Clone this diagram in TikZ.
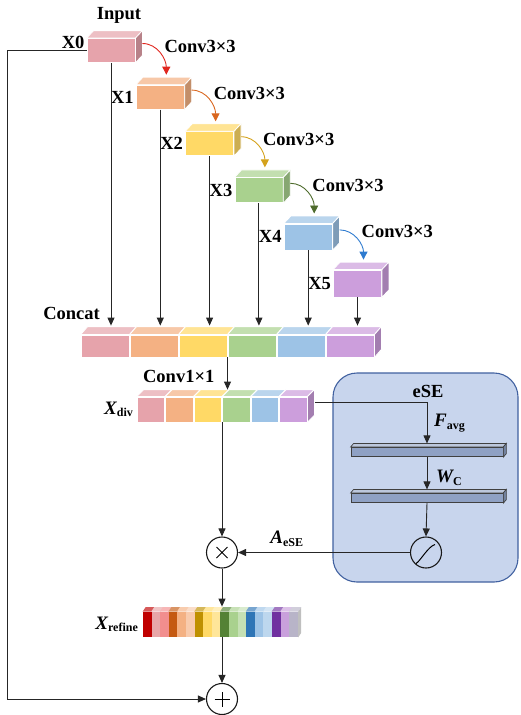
\documentclass[tikz,border=0pt]{standalone}
\usepackage{fontspec}
\setmainfont{Liberation Serif}
\usetikzlibrary{positioning,calc,arrows.meta}

\definecolor{cpink}{HTML}{E6A3AB}
\definecolor{corange}{HTML}{F4B183}
\definecolor{cyellow}{HTML}{FFD966}
\definecolor{cgreen}{HTML}{A9D18E}
\definecolor{cblue}{HTML}{9DC3E6}
\definecolor{cpurple}{HTML}{CC9EDC}
\definecolor{ared}{HTML}{E0261E}
\definecolor{aorange}{HTML}{D9661E}
\definecolor{agold}{HTML}{D4A21C}
\definecolor{agreen}{HTML}{4E6B2C}
\definecolor{ablue}{HTML}{2E7BCF}
\definecolor{esefill}{HTML}{C8D5ED}
\definecolor{eseline}{HTML}{4161A0}
\definecolor{fcfill}{HTML}{8FA1C4}

\tikzset{
  arr/.style={draw=black!85, line width=0.9pt, -{Triangle[length=8pt,width=7pt]}},
  carr/.style={draw=#1, line width=0.9pt, -{Triangle[length=8pt,width=8pt]}, fill=none},
  cube/.style={rectangle, draw=white, line width=0.8pt, inner sep=0pt,
    minimum width=48pt, minimum height=24pt, fill=#1},
  seg/.style={rectangle, draw=white, line width=0.8pt, inner sep=0pt, fill=#1},
  fcbar/.style={rectangle, draw=black!75, line width=0.7pt, inner sep=0pt,
    minimum width=152pt, minimum height=9.5pt, fill=fcfill},
  op/.style={circle, draw=black!90, line width=1.1pt, inner sep=0pt, minimum size=31pt},
  lbl/.style={font=\fontsize{18.5}{20}\selectfont\bfseries, inner sep=1pt},
  vlbl/.style={font=\fontsize{19}{20}\selectfont\bfseries\itshape, inner sep=1pt},
}
\newcommand{\sub}[1]{\textsubscript{\upshape\fontsize{12}{12}\selectfont #1}}
% top and right faces of a box node: node, colour, dx, dy
\newcommand{\boxfaces}[4]{%
  \filldraw[draw=white, line width=0.8pt, fill=#2!70!white] (#1.north west) -- ++(#3,-#4)
    -- ([shift={(#3,-#4)}]#1.north east) -- (#1.north east) -- cycle;
  \filldraw[draw=white, line width=0.8pt, fill=#2!80!black] (#1.north east) -- ++(#3,-#4)
    -- ([shift={(#3,-#4)}]#1.south east) -- (#1.south east) -- cycle;}

\begin{document}
\begin{tikzpicture}[x=1pt, y=-1pt, node distance=46.6pt and 49.3pt, on grid]
  \useasboundingbox (0,0) rectangle (520,715);

  % dense block features
  \node[cube=cpink] (x0) at (111,50.5) {};
  \node[cube=corange] (x1) [below right=of x0] {};
  \node[cube=cyellow] (x2) [below right=of x1] {};
  \node[cube=cgreen, minimum height=25pt] (x3) [below right=of x2] {};
  \node[cube=cblue, minimum height=26pt] (x4) [below right=of x3] {};
  \node[cube=cpurple, minimum height=27pt] (x5) [below right=of x4] {};
  \foreach \n/\c in {x0/cpink,x1/corange,x2/cyellow,x3/cgreen,x4/cblue,x5/cpurple}
    {\boxfaces{\n}{\c}{7}{7.5}}

  \node[lbl] (inlbl) at (119,15) {Input};
  \node[lbl, anchor=base east] at ([shift={(-1,-2)}]x0.west) {X0};
  \foreach \n/\t in {x1/X1,x2/X2,x3/X3,x4/X4,x5/X5}
    \node[lbl, anchor=east] at ([xshift=-1pt]\n.west) {\t};

  % conv3x3 arrows
  \foreach \a/\b/\c in {x0/x1/ared,x1/x2/aorange,x2/x3/agold,x3/x4/agreen,x4/x5/ablue}
    \draw[carr=\c] ([shift={(7,-7)}]\a.east) to[out=0,in=90] ([shift={(6,-10)}]\b.north);
  \foreach \b in {x1,x2,x3,x4,x5}
    \node[lbl, anchor=west] at ([shift={(3,-38)}]\b.north) {Conv3×3};

  % concat
  \foreach \c [count=\i] in {cpink,corange,cyellow,cgreen,cblue,cpurple}{
    \node[seg=\c, minimum width=48pt, minimum height=22pt] (cat\i) at ({56+\i*49},346) {};
    \filldraw[draw=white, line width=0.8pt, fill=\c!70!white] (cat\i.north west) -- ++(7,-8)
      -- ([shift={(7,-8)}]cat\i.north east) -- (cat\i.north east) -- cycle;
  }
  \filldraw[draw=white, line width=0.8pt, fill=cpurple!80!black] (cat6.north east) -- ++(7,-8)
    -- ([shift={(7,-8)}]cat6.south east) -- (cat6.south east) -- cycle;
  \node[lbl, anchor=east] (catlbl) at (101,313) {Concat};
  \foreach \i in {0,...,5}
    \draw[arr] (x\i.south) -- ([yshift=9pt]x\i.south |- cat1.north);

  % X_div
  \foreach \c [count=\i] in {cpink,corange,cyellow,cgreen,cblue,cpurple}{
    \node[seg=\c, minimum width=27.5pt, minimum height=25pt] (div\i) at ({122.25+\i*28.5},409.5) {};
    \filldraw[draw=white, line width=0.8pt, fill=\c!70!white] (div\i.north west) -- ++(7,-7)
      -- ([shift={(7,-7)}]div\i.north east) -- (div\i.north east) -- cycle;
  }
  \filldraw[draw=white, line width=0.8pt, fill=cpurple!80!black] (div6.north east) -- ++(7,-7)
    -- ([shift={(7,-7)}]div6.south east) -- (div6.south east) -- cycle;
  \node[vlbl, anchor=east] at ([xshift=-2pt]div1.west) {X\sub{div}};
  \coordinate (catmid) at ($(cat3.south east)!0.5!(cat4.south west)$);
  \draw[arr] (catmid) -- ([yshift=7pt]catmid |- div1.north);
  \node[lbl, anchor=east] at ([shift={(-12,19)}]catmid) {Conv1×1};

  % eSE block
  \node[rectangle, rounded corners=24pt, draw=eseline, line width=1.1pt, fill=esefill,
    minimum width=185pt, minimum height=209pt] (ese) at (425.5,477.5) {};
  \node[lbl] at (428,391) {eSE};
  \node[fcbar] (fc1) at (427,452) {};
  \node[fcbar] (fc2) at (427,498) {};
  \foreach \n in {fc1,fc2}{
    \filldraw[draw=black!75, line width=0.7pt, fill=fcfill!60!white] (\n.north west) -- ++(3,-3.5)
      -- ([shift={(3,-3.5)}]\n.north east) -- (\n.north east) -- cycle;
    \filldraw[draw=black!75, line width=0.7pt, fill=fcfill!80!black] (\n.north east) -- ++(3,-3.5)
      -- ([shift={(3,-3.5)}]\n.south east) -- (\n.south east) -- cycle;
  }
  \node[op, fill=esefill] (sig) at (426,552.5) {};
  \draw[line width=1pt] ([shift={(-10,11)}]sig.center) .. controls ([shift={(-6,9)}]sig.center)
    and ([shift={(2,-6)}]sig.center) .. ([shift={(9,-8)}]sig.center);

  \coordinate (divout) at ([shift={(8,-7.5)}]div6.east);
  \draw[arr] (divout) -| ([yshift=3.5pt]fc1.north);
  \node[vlbl, anchor=west] at (433,423) {F\sub{avg}};
  \draw[arr] (fc1.south) -- ([yshift=3.5pt]fc2.north);
  \node[vlbl, anchor=west] at (435,478) {W\sub{C}};
  \draw[arr] (fc2.south) -- (sig.north);

  % attention and refinement
  \node[op] (mul) at (222,552.5) {};
  \draw[line width=1pt] ([shift={(-5.5,-5.5)}]mul.center) -- ([shift={(5.5,5.5)}]mul.center)
    ([shift={(-5.5,5.5)}]mul.center) -- ([shift={(5.5,-5.5)}]mul.center);
  \draw[arr] (sig.west) -- (mul.east);
  \node[vlbl] at (287,539) {A\sub{eSE}};
  \draw[arr] (mul.north |- div1.south) -- (mul.north);

  \foreach \c [count=\i] in {C00000,E8A6A8,F28E8E,C55A11,F4B183,F8CBAD,BF9000,FFD966,FFE699,
      548235,A9D18E,C5E0B4,2E75B6,9DC3E6,BDD7EE,7030A0,C9A0DC,B8B4C8}{
    \definecolor{rc}{HTML}{\c}
    \node[seg=rc, draw=none, minimum width=8.6pt, minimum height=25pt] (ref\i) at ({138.7+\i*8.6},624.5) {};
    \fill[rc!65!white] (ref\i.north west) -- ++(3,-4.5) -- ([shift={(3,-4.5)}]ref\i.north east)
      -- (ref\i.north east) -- cycle;
    \draw[white, line width=0.4pt] (ref\i.north east) -- (ref\i.south east);
  }
  \fill[black!25] (ref18.north east) -- ++(3,-4.5) -- ([shift={(3,-4.5)}]ref18.south east)
    -- (ref18.south east) -- cycle;
  \node[vlbl, anchor=east] at ([xshift=-3pt]ref1.west) {X\sub{refine}};
  \draw[arr] (mul.south) -- ([yshift=5pt]mul.south |- ref1.north);

  \node[op] (add) at (222,699) {};
  \draw[line width=1pt] ([yshift=-7.5pt]add.center) -- ([yshift=7.5pt]add.center)
    ([xshift=-7.5pt]add.center) -- ([xshift=7.5pt]add.center);
  \draw[arr] (add.north |- ref1.south) -- (add.north);
  \draw[arr] (x0.west) -- ++(-79,0) |- (add.west);
\end{tikzpicture}
\end{document}
